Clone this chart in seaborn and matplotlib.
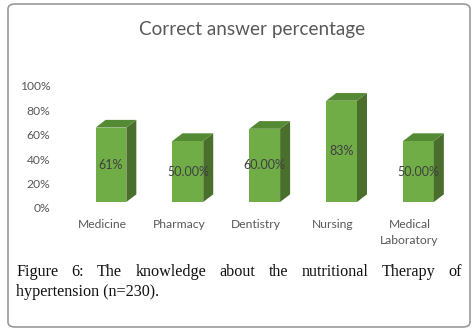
import matplotlib
matplotlib.use("Agg")
import matplotlib.pyplot as plt
import matplotlib.transforms as mtransforms
from matplotlib.patches import Polygon, FancyBboxPatch
import seaborn as sns

# data
categories = ["Medicine", "Pharmacy", "Dentistry", "Nursing", "Medical\nLaboratory"]
values = [61, 50, 60, 83, 50]
value_labels = ["61%", "50.00%", "60.00%", "83%", "50.00%"]
y_ticks = [0, 20, 40, 60, 80, 100]

title = "Correct answer percentage"
caption_line1 = ["Figure", "6:", "The", "knowledge", "about", "the", "nutritional", "Therapy", "of"]
caption_line2 = "hypertension (n=230)."

sns.set_style("white")
plt.rcParams['font.family'] = ['Lato', 'DejaVu Sans']

front = "#70ad47"
top_col = "#558a34"
side_col = "#4a6e2c"
grey = "#595959"

fig = plt.figure(figsize=(4.77, 3.33), dpi=100)
ax = fig.add_axes([56 / 477, 131 / 333, 404 / 477, 122 / 333])

sns.barplot(x=categories, y=values, color=front, width=0.4, saturation=1,
            ax=ax, edgecolor="none")

ax.set_xlim(-0.715, 4.54)
ax.set_ylim(0, 100)
ax.set_yticks(y_ticks)
ax.set_yticklabels([f"{t}%" for t in y_ticks])
ax.set_xlabel("")
ax.set_ylabel("")
for s in ax.spines.values():
    s.set_visible(False)
ax.tick_params(axis="both", length=0, labelsize=8.7, labelcolor=grey)
ax.tick_params(axis="y", pad=4)
ax.tick_params(axis="x", pad=12)

# shift labels like the Excel 3D floor
off_y = mtransforms.ScaledTranslation(0, -6 / 100, fig.dpi_scale_trans)
for lab in ax.get_yticklabels():
    lab.set_transform(lab.get_transform() + off_y)
off_x = mtransforms.ScaledTranslation(-9 / 100, 0, fig.dpi_scale_trans)
for lab in ax.get_xticklabels():
    lab.set_transform(lab.get_transform() + off_x)
    lab.set_linespacing(1.55)

# 3D depth faces
dx = 0.13
dy = 6.3
for p in ax.patches:
    x0, w, h = p.get_x(), p.get_width(), p.get_height()
    side = Polygon([(x0 + w, 0), (x0 + w + dx, dy), (x0 + w + dx, h + dy), (x0 + w, h)],
                   closed=True, facecolor=side_col, edgecolor="none", clip_on=False)
    top = Polygon([(x0, h), (x0 + dx, h + dy), (x0 + w + dx, h + dy), (x0 + w, h)],
                  closed=True, facecolor=top_col, edgecolor="none", clip_on=False)
    ax.add_patch(side)
    ax.add_patch(top)

ax.bar_label(ax.containers[0], labels=value_labels, label_type="center",
             fontsize=9, color="#404040")

fig.text(252 / 477, 1 - 30 / 333, title, ha="center", va="center",
         fontsize=13.6, color=grey)

# border
fig.patches.append(FancyBboxPatch((8 / 477, 6 / 333), 462 / 477, 323 / 333,
                                  boxstyle="round,pad=0,rounding_size=0.015",
                                  transform=fig.transFigure, facecolor="none",
                                  edgecolor="#9a9a9a", linewidth=1.2))

# justified caption
serif = "Liberation Serif"
fs = 11.6
left, right = 16 / 477, 462 / 477
y1, y2 = 1 - 272 / 333, 1 - 292 / 333
words = []
for i, wd in enumerate(caption_line1):
    words.append(fig.text(0, y1, wd, family=serif, fontsize=fs, va="center",
                          color="#111111"))
fig.canvas.draw()
r = fig.canvas.get_renderer()
widths = [t.get_window_extent(r).width / fig.bbox.width for t in words]
gap = (right - left - sum(widths)) / (len(words) - 1)
x = left
for t, wdt in zip(words, widths):
    t.set_x(x)
    x += wdt + gap
fig.text(left, y2, caption_line2, family=serif, fontsize=fs, va="center", color="#111111")

fig.savefig("out.png", dpi=100)
